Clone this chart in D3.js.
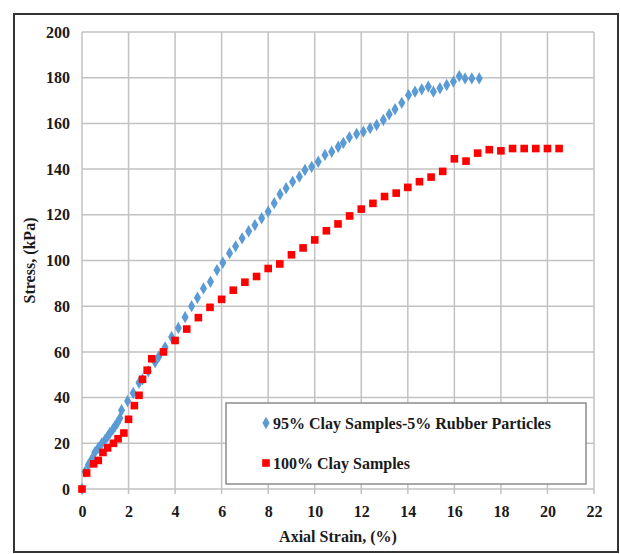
<!DOCTYPE html>
<html>
<head>
<meta charset="utf-8">
<script src="https://cdn.jsdelivr.net/npm/d3@7"></script>
<style>
  body { margin: 0; background: #fff; }
  text { font-family: "Liberation Serif", "Times New Roman", serif; font-weight: bold; fill: #1a1a1a; }
</style>
</head>
<body>
<div id="svg"></div>
<script>
// tick labels
var xTicks = [0, 2, 4, 6, 8, 10, 12, 14, 16, 18, 20, 22];
var yTicks = [0, 20, 40, 60, 80, 100, 120, 140, 160, 180, 200];

// 95% clay - 5% rubber
var rubberStrain = [0, 0.13, 0.27, 0.42, 0.55, 0.7, 0.85, 0.99, 1.1, 1.2, 1.32, 1.42, 1.52, 1.63, 1.7, 1.96, 2.2, 2.45, 2.6, 2.85,
  3.14, 3.3, 3.57, 3.85, 4.14, 4.43, 4.71, 4.96, 5.22, 5.52, 5.8, 6.05, 6.34, 6.6, 6.88, 7.16, 7.43, 7.72, 8.0, 8.26,
  8.51, 8.77, 9.05, 9.34, 9.58, 9.87, 10.15, 10.44, 10.73, 11.01, 11.23, 11.49, 11.8, 12.09, 12.38, 12.66, 12.95, 13.2, 13.45, 13.74,
  14.03, 14.31, 14.6, 14.88, 15.1, 15.38, 15.67, 15.96, 16.21, 16.46, 16.75, 17.07];
var rubberStress = [0, 7.5, 10.5, 13, 16, 18, 20, 21.5, 23, 24.5, 26, 27.5, 29, 31, 34.5, 38.5, 42, 46.5, 48, 51.5,
  55.5, 58, 62, 66.5, 70.5, 75.2, 80, 83.7, 87.8, 90.7, 95.8, 99, 103.2, 106.2, 109.7, 112.8, 115.5, 118.5, 121.4, 125.1,
  129, 131.6, 134.5, 136.7, 139.6, 141, 143.2, 146.2, 147.6, 149.8, 151.5, 153.9, 155.4, 156.4, 157.9, 159.3, 161.5, 164, 166.2, 169,
  172.4, 173.9, 174.9, 176.1, 173.9, 175.4, 176.8, 178.3, 180.7, 179.7, 179.7, 179.7];

// 100% clay
var clayStrain = [0, 0.2, 0.5, 0.7, 0.9, 1.1, 1.35, 1.55, 1.8, 2.0, 2.25, 2.45, 2.6, 2.8, 3.0, 3.5, 4.0, 4.5, 5.0, 5.5,
  6.0, 6.5, 7.0, 7.5, 8.0, 8.5, 9.0, 9.5, 10, 10.5, 11, 11.5, 12, 12.5, 13, 13.5, 14, 14.5, 15, 15.5,
  16, 16.5, 17, 17.5, 18, 18.5, 19, 19.5, 20, 20.5];
var clayStress = [0, 7, 11, 12.5, 16, 18, 20, 22, 24.5, 30.5, 36.5, 41, 48, 52, 57, 60, 65, 70, 75, 79.5,
  83, 87, 90.5, 93, 96.5, 98.5, 102.5, 105.5, 109, 113, 116, 119.5, 122.5, 125, 128, 129.5, 132, 134.5, 136.5, 139,
  144.5, 143.5, 147, 148.5, 148, 149, 149, 149, 149, 149];

var seriesNames = ["95% Clay Samples-5% Rubber Particles", "100% Clay Samples"];

var width = 620, height = 554;
var svg = d3.select("#svg").append("svg")
  .attr("width", width)
  .attr("height", height);

// outer frame
svg.append("rect")
  .attr("x", 14).attr("y", 14)
  .attr("width", 604).attr("height", 538)
  .attr("fill", "#fff")
  .attr("stroke", "#333")
  .attr("stroke-width", 2);

var margin = {top: 32, right: 26, bottom: 65, left: 82},
    w = width - margin.left - margin.right,
    h = height - margin.top - margin.bottom;
var g = svg.append("g").attr("transform", "translate(" + margin.left + "," + margin.top + ")");

var x = d3.scaleLinear().domain([0, 22]).range([0, w]);
var y = d3.scaleLinear().domain([0, 200]).range([h, 0]);

// grid
g.append("g").selectAll("line").data(xTicks).enter().append("line")
  .attr("x1", function(d) { return x(d); }).attr("x2", function(d) { return x(d); })
  .attr("y1", 0).attr("y2", h + 5)
  .attr("stroke", "#c2c2c2").attr("stroke-width", 1.5);
g.append("g").selectAll("line").data(yTicks).enter().append("line")
  .attr("x1", 0).attr("x2", w)
  .attr("y1", function(d) { return y(d); }).attr("y2", function(d) { return y(d); })
  .attr("stroke", "#c2c2c2").attr("stroke-width", 1.5);

var xAxis = g.append("g")
  .attr("transform", "translate(0," + h + ")")
  .call(d3.axisBottom(x).tickValues(xTicks).tickSize(0).tickPadding(17));
xAxis.select(".domain").remove();
xAxis.selectAll("text").style("font-size", "16px").attr("fill", "#1a1a1a");

var yAxis = g.append("g")
  .call(d3.axisLeft(y).tickValues(yTicks).tickSize(0).tickPadding(12));
yAxis.select(".domain").remove();
yAxis.selectAll("text").style("font-size", "16px").attr("fill", "#1a1a1a");

// axis titles
svg.append("text")
  .attr("x", 338).attr("y", 542)
  .attr("text-anchor", "middle")
  .style("font-size", "16px")
  .text("Axial Strain, (%)");
svg.append("text")
  .attr("transform", "translate(35," + (margin.top + h / 2) + ") rotate(-90)")
  .attr("text-anchor", "middle")
  .style("font-size", "16px")
  .text("Stress, (kPa)");

var diamond = d3.symbol().type(d3.symbolDiamond).size(44);
var square = d3.symbol().type(d3.symbolSquare).size(58);

var rubber = rubberStrain.map(function(d, i) { return {x: d, y: rubberStress[i]}; });
var clay = clayStrain.map(function(d, i) { return {x: d, y: clayStress[i]}; });

g.append("g").selectAll("path").data(rubber).enter().append("path")
  .attr("d", diamond)
  .attr("transform", function(d) { return "translate(" + x(d.x) + "," + y(d.y) + ")"; })
  .attr("fill", "#5b9bd5");

g.append("g").selectAll("path").data(clay).enter().append("path")
  .attr("d", square)
  .attr("transform", function(d) { return "translate(" + x(d.x) + "," + y(d.y) + ")"; })
  .attr("fill", "#ff0000");

// legend
var lg = svg.append("g");
lg.append("rect")
  .attr("x", 226).attr("y", 403).attr("width", 360).attr("height", 81)
  .attr("fill", "#fff").attr("stroke", "#8c8c8c").attr("stroke-width", 1.5);
lg.append("path").attr("d", diamond).attr("transform", "translate(266,423)").attr("fill", "#5b9bd5");
lg.append("path").attr("d", square).attr("transform", "translate(266,463)").attr("fill", "#ff0000");
lg.append("text").attr("x", 273).attr("y", 429).style("font-size", "16px").text(seriesNames[0]);
lg.append("text").attr("x", 273).attr("y", 469).style("font-size", "16px").text(seriesNames[1]);
</script>
</body>
</html>
